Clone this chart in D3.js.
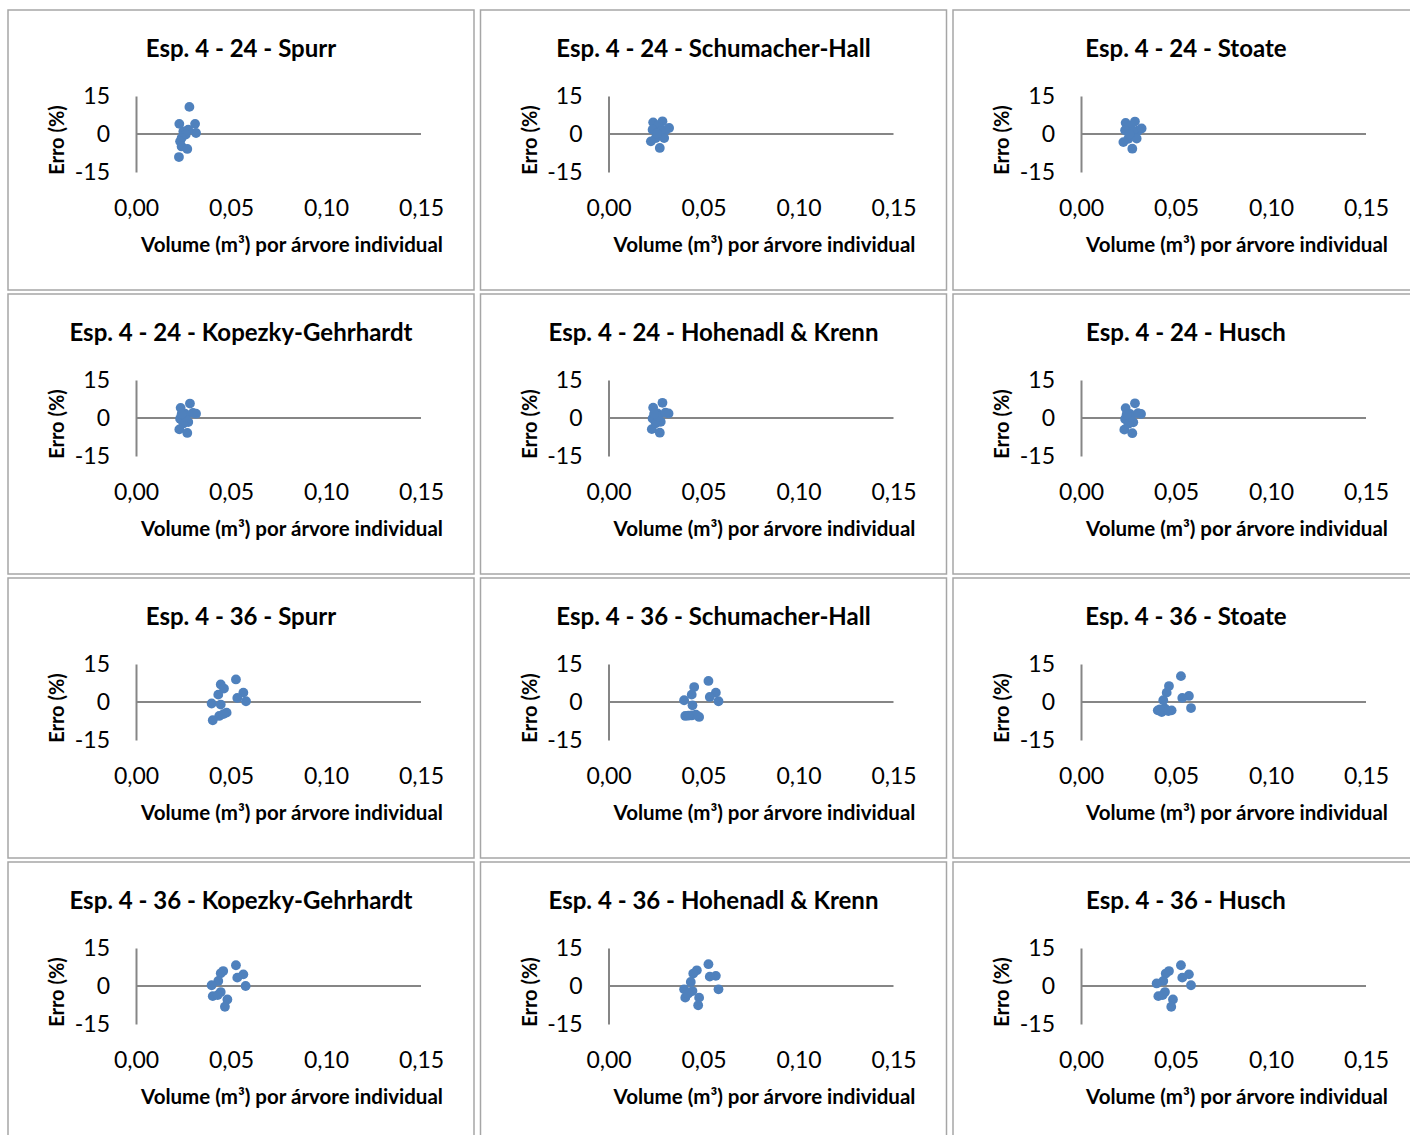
<!DOCTYPE html>
<html>
<head>
<meta charset="utf-8">
<script src="https://cdn.jsdelivr.net/npm/d3@7/dist/d3.min.js"></script>
<style>
  html, body { margin: 0; padding: 0; background: #ffffff; }
  svg { display: block; }
  text { font-family: Lato, "Open Sans", sans-serif; fill: #000; }
</style>
</head>
<body>
<svg id="chart" width="1410" height="1135"></svg>
<script>
// Volume (m³) per tree vs. relative error (%) for each volume-estimation method
const spurr24 = [[0.0281,10.7],[0.0228,4.0],[0.0311,4.0],[0.0316,0.4],[0.0275,1.7],[0.0249,1.0],[0.0262,-0.2],[0.0240,-1.6],[0.0232,-2.9],[0.0240,-4.9],[0.0270,-5.9],[0.0226,-9.1]];
const schumacher24 = [[0.0235,4.6],[0.0284,5.0],[0.0262,3.5],[0.0319,2.4],[0.0300,1.5],[0.0232,1.7],[0.0275,1.1],[0.0249,-1.6],[0.0223,-2.9],[0.0293,-1.6],[0.0270,-5.5],[0.0255,0.2]];
const stoate24 = [[0.0235,4.4],[0.0284,4.9],[0.0262,3.3],[0.0319,2.2],[0.0300,1.3],[0.0232,1.5],[0.0275,0.9],[0.0249,-1.9],[0.0223,-3.2],[0.0293,-1.8],[0.0270,-5.8],[0.0255,-0.1]];
const kopezky24 = [[0.0284,5.7],[0.0235,4.0],[0.0316,1.7],[0.0258,1.7],[0.0232,-0.3],[0.0275,-1.6],[0.0228,-4.5],[0.0270,-5.9],[0.0249,-2.2],[0.0262,0.5],[0.0240,1.5],[0.0300,2.0]];
const hohenadl24 = [[0.0284,6.0],[0.0235,4.1],[0.0316,1.8],[0.0258,1.8],[0.0232,-0.2],[0.0275,-1.5],[0.0228,-4.4],[0.0270,-5.8],[0.0249,-2.1],[0.0262,0.6],[0.0240,1.6],[0.0300,2.1]];
const husch24 = [[0.0284,5.8],[0.0235,3.9],[0.0316,1.6],[0.0258,1.6],[0.0232,-0.4],[0.0275,-1.7],[0.0228,-4.6],[0.0270,-6.0],[0.0249,-2.3],[0.0262,0.4],[0.0240,1.4],[0.0300,1.9]];

const spurr36 = [[0.0526,8.9],[0.0446,6.9],[0.0463,5.3],[0.0433,2.9],[0.0565,3.7],[0.0533,1.6],[0.0579,0.3],[0.0398,-0.6],[0.0446,-1.0],[0.0477,-4.2],[0.0438,-5.5],[0.0404,-7.2],[0.0460,-4.8]];
const schumacher36 = [[0.0526,8.3],[0.0451,5.9],[0.0438,2.9],[0.0565,3.7],[0.0533,2.0],[0.0579,0.3],[0.0398,0.7],[0.0442,-1.3],[0.0404,-5.5],[0.0438,-5.3],[0.0477,-5.9],[0.0460,-5.0],[0.0420,-5.4]];
const stoate36 = [[0.0526,10.2],[0.0463,6.3],[0.0451,3.7],[0.0568,2.4],[0.0533,1.6],[0.0433,0.7],[0.0579,-2.4],[0.0404,-3.3],[0.0442,-2.6],[0.0477,-3.3],[0.0425,-4.0],[0.0460,-3.6],[0.0415,-2.9]];
const kopezky36 = [[0.0526,8.2],[0.0459,5.9],[0.0446,5.0],[0.0565,4.6],[0.0533,3.3],[0.0433,2.0],[0.0577,0.0],[0.0398,0.3],[0.0446,-2.4],[0.0404,-4.0],[0.0481,-5.3],[0.0468,-8.2],[0.0430,-3.6]];
const hohenadl36 = [[0.0526,8.6],[0.0465,6.2],[0.0446,4.9],[0.0565,4.0],[0.0533,3.7],[0.0433,1.6],[0.0398,-1.3],[0.0579,-1.3],[0.0442,-2.0],[0.0404,-4.6],[0.0477,-4.6],[0.0472,-7.6],[0.0420,-3.0]];
const husch36 = [[0.0526,8.2],[0.0463,5.9],[0.0446,4.9],[0.0568,4.6],[0.0533,3.3],[0.0433,2.0],[0.0579,0.3],[0.0398,1.0],[0.0442,-2.4],[0.0407,-4.0],[0.0484,-5.3],[0.0475,-8.2],[0.0430,-3.6]];

const panelTitles = [
  "Esp. 4 - 24 - Spurr", "Esp. 4 - 24 - Schumacher-Hall", "Esp. 4 - 24 - Stoate",
  "Esp. 4 - 24 - Kopezky-Gehrhardt", "Esp. 4 - 24 - Hohenadl & Krenn", "Esp. 4 - 24 - Husch",
  "Esp. 4 - 36 - Spurr", "Esp. 4 - 36 - Schumacher-Hall", "Esp. 4 - 36 - Stoate",
  "Esp. 4 - 36 - Kopezky-Gehrhardt", "Esp. 4 - 36 - Hohenadl & Krenn", "Esp. 4 - 36 - Husch"
];
const panelData = [
  spurr24, schumacher24, stoate24,
  kopezky24, hohenadl24, husch24,
  spurr36, schumacher36, stoate36,
  kopezky36, hohenadl36, husch36
];
const xTicks = [0, 0.05, 0.10, 0.15];
const yTicks = [-15, 0, 15];
const xTitle = "Volume (m³) por árvore individual";
const yTitle = "Erro (%)";

const svg = d3.select("#chart");
const panelW = 466, panelH = 280;
const colStep = 472.5, rowStep = 284;

const x = d3.scaleLinear().domain([0, 0.15]).range([128, 413]);
const y = d3.scaleLinear().domain([-15, 15]).range([162, 86]);
const fmtX = v => d3.format(".2f")(v).replace(".", ",");
const fmtY = v => String(v);

panelTitles.forEach((title, i) => {
  const col = i % 3, row = Math.floor(i / 3);
  const g = svg.append("g")
    .attr("transform", `translate(${8 + col * colStep},${10 + row * rowStep})`);

  g.append("rect")
    .attr("x", 0).attr("y", 0)
    .attr("width", panelW).attr("height", panelH)
    .attr("fill", "#fff")
    .attr("stroke", "#a6a6a6").attr("stroke-width", 1.5);

  g.append("text")
    .attr("x", panelW / 2).attr("y", 37)
    .attr("text-anchor", "middle").attr("dominant-baseline", "central")
    .attr("font-size", 24).attr("font-weight", 700)
    .text(title);

  // vertical axis
  const yAxis = g.append("g").attr("transform", `translate(${x(0)},0)`)
    .call(d3.axisLeft(y).tickValues(yTicks).tickSize(0).tickPadding(26).tickFormat(fmtY));
  yAxis.select(".domain").attr("stroke", "#868686").attr("stroke-width", 2);
  yAxis.selectAll("text").attr("font-size", 23)
    .attr("font-family", "Lato, sans-serif").attr("fill", "#000");

  // horizontal line at zero error, labels placed low
  g.append("line")
    .attr("x1", x(0)).attr("x2", x(0.15))
    .attr("y1", y(0)).attr("y2", y(0))
    .attr("stroke", "#868686").attr("stroke-width", 2);
  const xAxis = g.append("g").attr("transform", `translate(0,${y(-15)})`)
    .call(d3.axisBottom(x).tickValues(xTicks).tickSize(0).tickPadding(28).tickFormat(fmtX));
  xAxis.select(".domain").remove();
  xAxis.selectAll("text").attr("font-size", 23).attr("font-family", "Lato, sans-serif").attr("fill", "#000");

  g.append("text")
    .attr("x", 284).attr("y", 234)
    .attr("text-anchor", "middle").attr("dominant-baseline", "central")
    .attr("font-size", 20.5).attr("font-weight", 700)
    .text(xTitle);

  g.append("text")
    .attr("transform", `translate(48,130) rotate(-90)`)
    .attr("text-anchor", "middle").attr("dominant-baseline", "central")
    .attr("font-size", 20).attr("font-weight", 700)
    .text(yTitle);

  g.selectAll("circle.pt")
    .data(panelData[i])
    .join("circle")
    .attr("class", "pt")
    .attr("cx", d => x(d[0]))
    .attr("cy", d => y(d[1]))
    .attr("r", 4.9)
    .attr("fill", "#4f81bd");
});
</script>
</body>
</html>
